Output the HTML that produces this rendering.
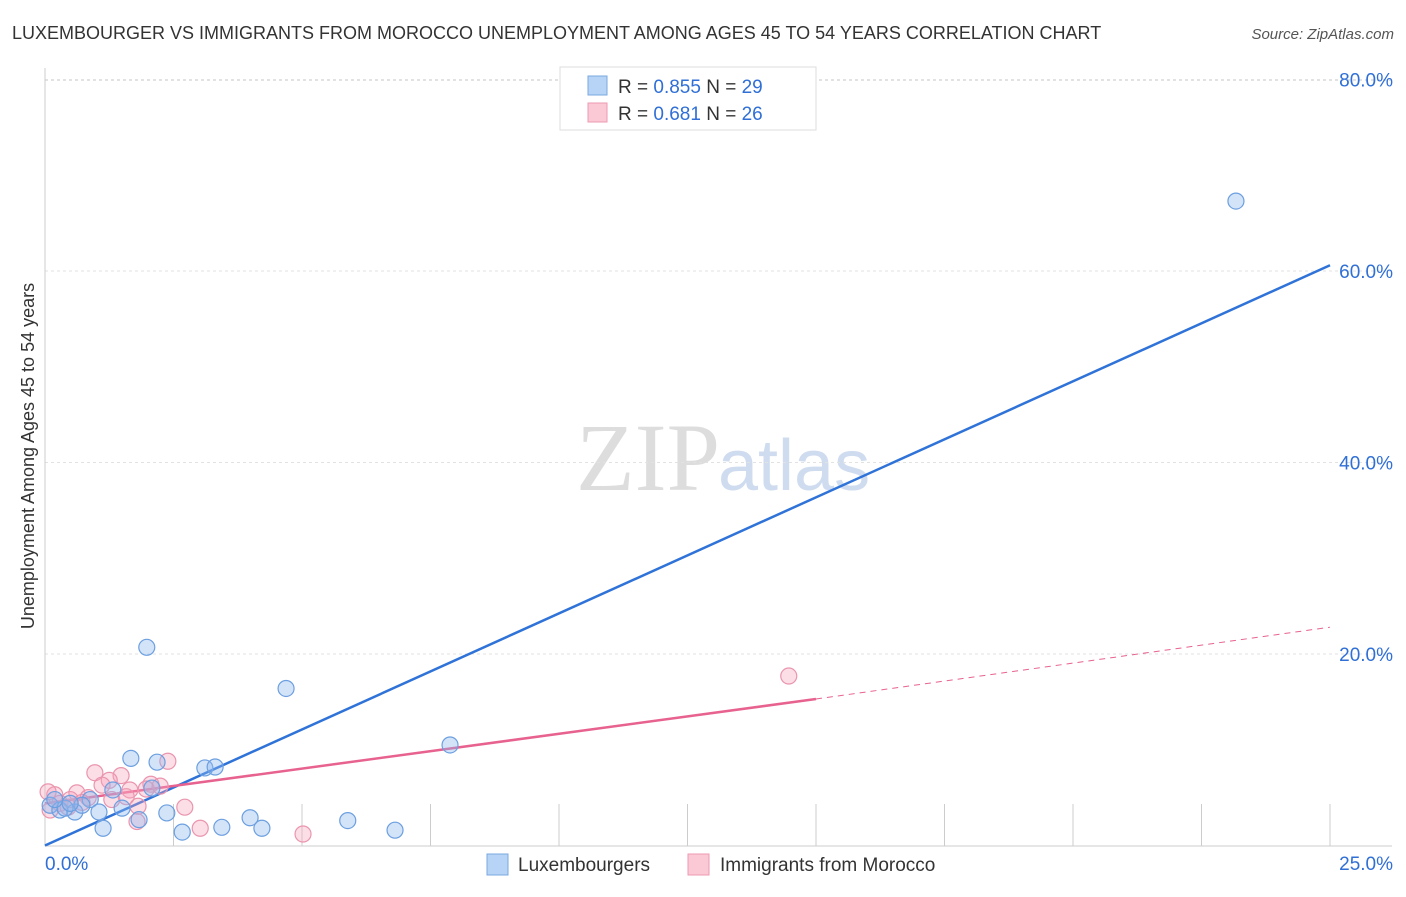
<!DOCTYPE html>
<html><head><meta charset="utf-8"><style>
body{margin:0;background:#fff;font-family:"Liberation Sans",sans-serif}
</style></head><body>
<svg width="1406" height="892" xmlns="http://www.w3.org/2000/svg" id="chart" font-family="Liberation Sans, sans-serif">
<text x="12" y="39" font-size="18" fill="#333">LUXEMBOURGER VS IMMIGRANTS FROM MOROCCO UNEMPLOYMENT AMONG AGES 45 TO 54 YEARS CORRELATION CHART</text>
<text x="1394" y="39" font-size="15" fill="#555" font-style="italic" text-anchor="end">Source: ZipAtlas.com</text>
<text x="720" y="490" font-size="96" fill="#ddd" text-anchor="end" font-family="Liberation Serif, serif">ZIP</text>
<text x="718" y="490" font-size="72" fill="#cfdcf0">atlas</text>
<g id="grid"></g><g id="axes"></g><g id="lines"></g><g id="points"></g>
<text transform="translate(34,456) rotate(-90)" font-size="18" fill="#333" text-anchor="middle">Unemployment Among Ages 45 to 54 years</text>
<g>
<rect x="560" y="67" width="256" height="63" fill="#fff" stroke="#ddd"/>
<rect x="588" y="76" width="19" height="19" fill="#b7d3f5" stroke="#7aa8e0"/>
<rect x="588" y="103" width="19" height="19" fill="#fbc8d6" stroke="#ec9ab2"/>
<text x="618" y="93" font-size="19" fill="#333">R = <tspan fill="#2f6fd6">0.855</tspan>   N = <tspan fill="#2f6fd6">29</tspan></text>
<text x="618" y="120" font-size="19" fill="#333">R =  <tspan fill="#2f6fd6">0.681</tspan>   N = <tspan fill="#2f6fd6">26</tspan></text>
</g>
<g>
<rect x="487" y="854" width="21" height="21" fill="#b7d3f5" stroke="#7aa8e0"/>
<text x="518" y="871" font-size="19" fill="#333">Luxembourgers</text>
<rect x="688" y="854" width="21" height="21" fill="#fbc8d6" stroke="#ec9ab2"/>
<text x="720" y="871" font-size="19" fill="#333">Immigrants from Morocco</text>
</g>
</svg>
<script>
const blueX=[23.17,1.98,4.69,7.88,1.67,2.18,3.11,3.31,2.08,1.32,0.88,1.50,1.05,2.37,1.83,3.99,5.89,1.13,2.67,3.44,4.22,6.81,0.10,0.29,0.58,0.39,0.72,0.19,0.49];
const blueY=[67.3,20.7,16.4,10.5,9.1,8.7,8.1,8.2,6.0,5.8,4.8,3.9,3.5,3.4,2.7,2.9,2.6,1.8,1.4,1.9,1.8,1.6,4.2,3.7,3.5,3.9,4.2,4.8,4.4];
const pinkX=[14.47,2.39,0.97,1.48,1.25,2.06,1.65,1.11,1.97,0.62,0.84,0.19,0.29,0.45,0.10,0.06,1.30,1.81,1.58,2.72,1.79,3.02,5.02,0.49,0.72,2.24];
const pinkY=[17.7,8.8,7.6,7.3,6.8,6.4,5.8,6.3,5.9,5.5,5.0,5.3,4.4,4.0,3.7,5.6,4.8,4.1,5.1,4.0,2.5,1.8,1.2,4.8,4.5,6.2];
const blueLine=[0,0,25,60.6];
const pinkLine=[0,4.4,15,15.3,25,22.8];
const yTicks=[20,40,60,80];
const yTickLabels=["20.0%","40.0%","60.0%","80.0%"];
const xTicks=[0,2.5,5,7.5,10,12.5,15,17.5,20,22.5,25];
const xs=v=>45+v*51.4, ys=v=>845.5-v*9.575;
const NS="http://www.w3.org/2000/svg";
function mk(tag,attrs,parent){const e=document.createElementNS(NS,tag);for(const k in attrs)e.setAttribute(k,attrs[k]);document.getElementById(parent).appendChild(e);return e;}
yTicks.forEach((t,i)=>{
 const g=mk('line',{x1:45,x2:1392,y1:ys(t),y2:ys(t),stroke:'#e2e2e2','stroke-dasharray':'3,3'},'grid');
 
 
 const l=mk('text',{x:1393,y:ys(t)+7,'font-size':19,fill:'#2f6fd6','text-anchor':'end'},'axes');
 l.textContent=yTickLabels[i];
 
 
});
const tg=mk('line',{x1:45,x2:1392,y1:ys(80)+1,y2:ys(80)+1,stroke:'#e2e2e2','stroke-dasharray':'3,3'},'grid');


const ya=mk('line',{x1:45,x2:45,y1:68,y2:846,stroke:'#ccc'},'axes');


const xa=mk('line',{x1:45,x2:1392,y1:846,y2:846,stroke:'#ccc'},'axes');


xTicks.forEach(t=>{if(t>0){const tk=mk('line',{x1:xs(t),x2:xs(t),y1:846,y2:804,stroke:'#ccc'},'axes');
 
 }});
const x0=mk('text',{x:45,y:870,'font-size':19,fill:'#2f6fd6'},'axes');x0.textContent='0.0%';


const x1=mk('text',{x:1393,y:870,'font-size':19,fill:'#2f6fd6','text-anchor':'end'},'axes');x1.textContent='25.0%';


function dots(X,Y,fill,stroke,name){X.forEach((x,i)=>{const c=mk('circle',{cx:xs(x),cy:ys(Y[i]),r:8,fill:fill,stroke:stroke,'stroke-width':1.2},'points');
 
 });}
dots(pinkX,pinkY,'rgba(245,160,185,0.35)','#ea95ae','point-morocco');
dots(blueX,blueY,'rgba(140,185,240,0.38)','#6c9fe0','point-luxembourgers');
const bl=mk('line',{x1:xs(blueLine[0]),y1:ys(blueLine[1]),x2:xs(blueLine[2]),y2:ys(blueLine[3]),stroke:'#2f73d8','stroke-width':2.5},'lines');


const pl=mk('line',{x1:xs(pinkLine[0]),y1:ys(pinkLine[1]),x2:xs(pinkLine[2]),y2:ys(pinkLine[3]),stroke:'#e8628f','stroke-width':2.5},'lines');


const pd=mk('line',{x1:xs(pinkLine[2]),y1:ys(pinkLine[3]),x2:xs(pinkLine[4]),y2:ys(pinkLine[5]),stroke:'#e8628f','stroke-width':1,'stroke-dasharray':'6,5'},'lines');


</script>
</body></html>
